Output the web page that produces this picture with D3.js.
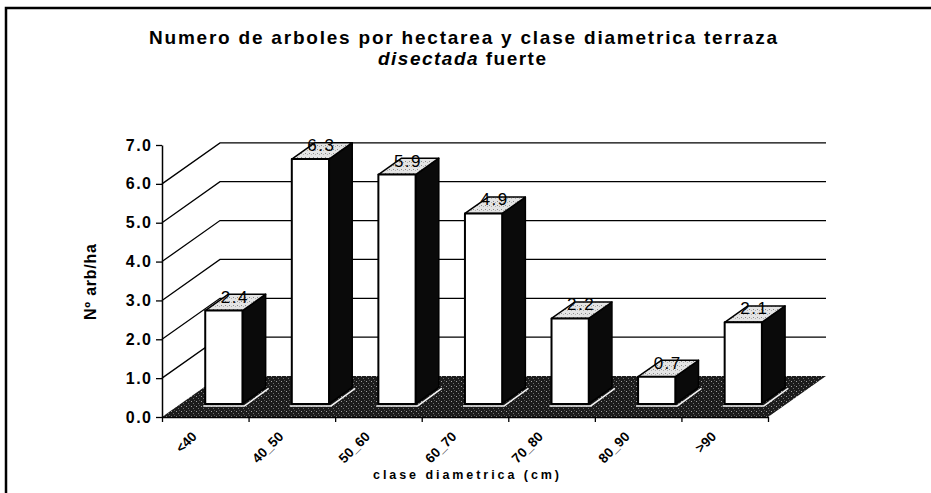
<!DOCTYPE html>
<html>
<head>
<meta charset="utf-8">
<script src="https://cdn.jsdelivr.net/npm/d3@7"></script>
<style>
  body { margin: 0; background: #fff; }
  text { font-family: "Liberation Sans", Arial, sans-serif; fill: #000; }
</style>
</head>
<body>
<div id="chart"></div>
<script>
// Data
const categories = ['<40', '40_50', '50_60', '60_70', '70_80', '80_90', '>90']
const values = [2.4, 6.3, 5.9, 4.9, 2.2, 0.7, 2.1]
const yTicks = [0, 1, 2, 3, 4, 5, 6, 7]
const wallGridValues = [1, 2, 3, 4, 5, 6]

// Texts
const titleLine1 = 'Numero de arboles por hectarea y clase diametrica terraza'
const titleLine2a = 'disectada'
const titleLine2b = ' fuerte'
const yTitle = 'Nº arb/ha'
const xTitle = 'clase diametrica (cm)'

// Dimensions
const width = 931
const height = 493
const floorLeft = 162
const floorRight = 768
const depthDx = 58
const depthDy = -41
const barDepthFront = 0.32
const barDepthBack = 0.72

const svg = d3.select('#chart')
    .append('svg')
    .attr('width', width)
    .attr('height', height)

const defs = svg.append('defs')

// speckled floor
const floorPat = defs.append('pattern')
    .attr('id', 'floorPat')
    .attr('patternUnits', 'userSpaceOnUse')
    .attr('width', 5).attr('height', 5)
floorPat.append('rect').attr('width', 5).attr('height', 5).attr('fill', '#1c1c1c')
floorPat.append('rect').attr('x', 1).attr('y', 1).attr('width', 1).attr('height', 1).attr('fill', '#a0a0a0')
floorPat.append('rect').attr('x', 3).attr('y', 3).attr('width', 1).attr('height', 1).attr('fill', '#707070')
floorPat.append('rect').attr('x', 4).attr('y', 0).attr('width', 1).attr('height', 1).attr('fill', '#555')

// speckled bar tops
const topPat = defs.append('pattern')
    .attr('id', 'topPat')
    .attr('patternUnits', 'userSpaceOnUse')
    .attr('width', 4).attr('height', 4)
topPat.append('rect').attr('width', 4).attr('height', 4).attr('fill', '#e4e4e4')
topPat.append('rect').attr('x', 1).attr('y', 1).attr('width', 1).attr('height', 1).attr('fill', '#8a8a8a')
topPat.append('rect').attr('x', 3).attr('y', 2).attr('width', 1).attr('height', 1).attr('fill', '#b0b0b0')

// Frame
svg.append('path')
    .attr('d', `M6,${height + 5} L6,8 L${width + 5},8`)
    .attr('fill', 'none')
    .attr('stroke', '#000')
    .attr('stroke-width', 2.5)

// Scales
const x = d3.scaleBand()
    .domain(categories)
    .range([floorLeft, floorRight])
    .paddingInner(0.57)
    .paddingOuter(0.285)

const xEdges = d3.scaleLinear()
    .domain([0, categories.length])
    .range([floorLeft, floorRight])

const y = d3.scaleLinear()
    .domain([0, 7])
    .range([417, 145])

const proj = (px, v, d) => [px + d * depthDx, y(v) + d * depthDy]
const pts = arr => arr.map(p => p.join(',')).join(' ')

// Floor
svg.append('polygon')
    .attr('points', pts([proj(floorLeft, 0, 0), proj(floorRight, 0, 0), proj(floorRight, 0, 1), proj(floorLeft, 0, 1)]))
    .attr('fill', 'url(#floorPat)')

// Side wall diagonals + back wall gridlines
const grid = svg.append('g').attr('stroke', '#000').attr('stroke-width', 1.3).attr('fill', 'none')
grid.selectAll('path.diag')
    .data(wallGridValues)
    .join('path')
    .attr('class', 'diag')
    .attr('d', v => {
        const a = proj(floorLeft, v, 0)
        const b = proj(floorLeft, v, 1)
        const c = proj(floorRight, v, 1)
        return `M${a}L${b}L${c}`
    })

// Y axis
const yAxis = svg.append('g')
    .attr('transform', `translate(${floorLeft},0)`)
    .call(d3.axisLeft(y).tickValues(yTicks).tickFormat(d3.format('.1f')).tickSize(6).tickSizeOuter(0).tickPadding(5))
yAxis.select('.domain').attr('stroke', '#000').attr('stroke-width', 1.5)
yAxis.selectAll('.tick line').attr('stroke', '#000').attr('stroke-width', 1.3)
yAxis.selectAll('.tick text')
    .attr('font-size', 16)
    .attr('font-weight', 'bold')
    .attr('letter-spacing', 1.5)
    .attr('dx', 1.5)

// X axis (floor front edge)
const xAxis = svg.append('g')
    .attr('transform', `translate(0,${y(0)})`)
    .call(d3.axisBottom(xEdges).tickValues(d3.range(categories.length + 1)).tickFormat('').tickSize(5).tickSizeOuter(0))
xAxis.select('.domain').attr('stroke', '#000').attr('stroke-width', 1.5)
xAxis.selectAll('.tick line').attr('stroke', '#000').attr('stroke-width', 1.3)

svg.append('g')
    .selectAll('text')
    .data(categories)
    .join('text')
    .attr('transform', d => `translate(${x(d) + x.bandwidth() / 2 - 11},${y(0) + 17}) rotate(-45)`)
    .attr('text-anchor', 'end')
    .attr('dy', '0.35em')
    .attr('font-size', 13.5)
    .attr('font-weight', 'bold')
    .text(d => d)

// Bars
const bars = svg.append('g')
    .selectAll('g')
    .data(categories.map((c, i) => ({ c, v: values[i] })))
    .join('g')

bars.each(function (d) {
    const g = d3.select(this)
    const x0 = x(d.c)
    const x1 = x(d.c) + x.bandwidth()
    const fbl = proj(x0, 0, barDepthFront)
    const fbr = proj(x1, 0, barDepthFront)
    const bbr = proj(x1, 0, barDepthBack)
    const ftl = proj(x0, d.v, barDepthFront)
    const ftr = proj(x1, d.v, barDepthFront)
    const btl = proj(x0, d.v, barDepthBack)
    const btr = proj(x1, d.v, barDepthBack)

    // light rim on the floor around the base
    g.append('polyline')
        .attr('points', pts([[fbl[0] - 2, fbl[1] + 2], [fbr[0] + 2, fbr[1] + 2], [bbr[0] + 3, bbr[1] + 1]]))
        .attr('fill', 'none')
        .attr('stroke', '#f2f2f2')
        .attr('stroke-width', 1.5)

    // side
    g.append('polygon')
        .attr('points', pts([fbr, bbr, btr, ftr]))
        .attr('fill', '#0a0a0a')
        .attr('stroke', '#000')
        .attr('stroke-width', 1.5)
        .attr('stroke-linejoin', 'round')
    // top
    g.append('polygon')
        .attr('points', pts([ftl, ftr, btr, btl]))
        .attr('fill', 'url(#topPat)')
        .attr('stroke', '#000')
        .attr('stroke-width', 1.5)
        .attr('stroke-linejoin', 'round')
    // front
    g.append('polygon')
        .attr('points', pts([fbl, fbr, ftr, ftl]))
        .attr('fill', '#fff')
        .attr('stroke', '#000')
        .attr('stroke-width', 2)
        .attr('stroke-linejoin', 'round')

    // value label
    g.append('text')
        .attr('x', (x0 + x1) / 2 + barDepthFront * depthDx + 11)
        .attr('y', ftl[1] - 8)
        .attr('text-anchor', 'middle')
        .attr('font-size', 17)
        .attr('letter-spacing', 1.5)
        .text(d3.format('.1f')(d.v))
})

// Titles
svg.append('text')
    .attr('x', 463)
    .attr('y', 44)
    .attr('text-anchor', 'middle')
    .attr('font-size', 19)
    .attr('font-weight', 'bold')
    .attr('textLength', 628)
    .attr('lengthAdjust', 'spacing')
    .text(titleLine1)

const t2 = svg.append('text')
    .attr('x', 462)
    .attr('y', 65)
    .attr('text-anchor', 'middle')
    .attr('font-size', 19)
    .attr('font-weight', 'bold')
    .attr('textLength', 168)
    .attr('lengthAdjust', 'spacing')
t2.append('tspan').attr('font-style', 'italic').text(titleLine2a)
t2.append('tspan').text(titleLine2b)

svg.append('text')
    .attr('transform', 'translate(96,282) rotate(-90)')
    .attr('text-anchor', 'middle')
    .attr('font-size', 16)
    .attr('font-weight', 'bold')
    .attr('textLength', 76)
    .attr('lengthAdjust', 'spacing')
    .text(yTitle)

svg.append('text')
    .attr('x', 466)
    .attr('y', 479)
    .attr('text-anchor', 'middle')
    .attr('font-size', 12.5)
    .attr('font-weight', 'bold')
    .attr('textLength', 186)
    .attr('lengthAdjust', 'spacing')
    .text(xTitle)
</script>
</body>
</html>
